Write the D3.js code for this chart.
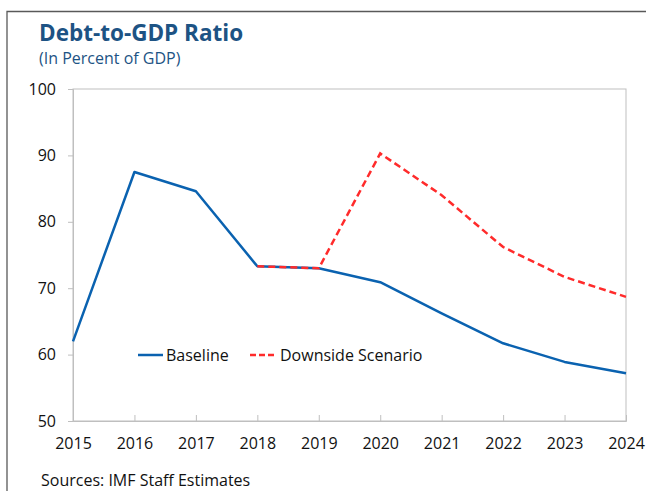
<!DOCTYPE html>
<html>
<head>
<meta charset="utf-8">
<script src="https://cdn.jsdelivr.net/npm/d3@7"></script>
<style>
  body { margin: 0; background: #fff; }
  text { font-family: "Open Sans", "Noto Sans", sans-serif; }
</style>
</head>
<body>
<div id="graph"></div>
<script>
var years = [2015, 2016, 2017, 2018, 2019, 2020, 2021, 2022, 2023, 2024];
var baseline = [62.0, 87.5, 84.6, 73.3, 73.0, 70.9, 66.2, 61.7, 58.9, 57.2];
var downsideYears = [2018, 2019, 2020, 2021, 2022, 2023, 2024];
var downside = [73.3, 73.0, 90.3, 84.0, 76.2, 71.7, 68.7];
var yTicks = [50, 60, 70, 80, 90, 100];

var width = 646, height = 491;
var plotLeft = 73, plotRight = 626, plotTop = 89, plotBottom = 421;

var blue = '#0a62b0', red = '#ff2b2b', grid = '#bfbfbf';

var svg = d3.select('#graph')
    .append('svg')
        .attr('width', width)
        .attr('height', height);

// outer frame
svg.append('path')
    .attr('d', 'M7,' + height + 'V11.5H' + width)
    .attr('fill', 'none')
    .attr('stroke', '#595959')
    .attr('stroke-width', 1.3);

svg.append('text')
    .attr('x', 39).attr('y', 41)
    .attr('font-size', 22.5)
    .attr('font-weight', 'bold')
    .attr('fill', '#1d5384')
    .text('Debt-to-GDP Ratio');

svg.append('text')
    .attr('x', 39).attr('y', 64)
    .attr('font-size', 16)
    .attr('fill', '#1d5384')
    .text('(In Percent of GDP)');

var x = d3.scaleLinear()
    .domain([2015, 2024])
    .range([plotLeft, plotRight]);

var y = d3.scaleLinear()
    .domain([50, 100])
    .range([plotBottom, plotTop]);

// plot box
svg.append('rect')
    .attr('x', plotLeft).attr('y', plotTop)
    .attr('width', plotRight - plotLeft).attr('height', plotBottom - plotTop)
    .attr('fill', 'none')
    .attr('stroke', grid);

var yAxis = svg.append('g')
    .attr('transform', 'translate(' + plotLeft + ',0)')
    .call(d3.axisLeft(y).tickValues(yTicks).tickSize(5).tickPadding(12));

var xAxis = svg.append('g')
    .attr('transform', 'translate(0,' + plotBottom + ')')
    .call(d3.axisBottom(x).tickValues(years).tickFormat(d3.format('d')).tickSize(-6).tickPadding(17));

[yAxis, xAxis].forEach(function(ax) {
    ax.select('.domain').attr('stroke', grid);
    ax.selectAll('.tick line').attr('stroke', grid);
    ax.selectAll('.tick text')
        .attr('font-size', 16)
        .attr('fill', '#111')
        .style('font-family', '"Open Sans", sans-serif');
});

var line = d3.line()
    .x(function(d) { return x(d[0]); })
    .y(function(d) { return y(d[1]); });

svg.append('path')
    .datum(years.map(function(d, i) { return [d, baseline[i]]; }))
    .attr('fill', 'none')
    .attr('stroke', blue)
    .attr('stroke-width', 2.5)
    .attr('stroke-linejoin', 'round')
    .attr('d', line);

svg.append('path')
    .datum(downsideYears.map(function(d, i) { return [d, downside[i]]; }))
    .attr('fill', 'none')
    .attr('stroke', red)
    .attr('stroke-width', 2.5)
    .attr('stroke-dasharray', '7,4')
    .attr('d', line);

// legend
var legend = svg.append('g').attr('transform', 'translate(138,355)');
legend.append('line')
    .attr('x1', 0).attr('x2', 25)
    .attr('stroke', blue).attr('stroke-width', 2.5);
legend.append('text')
    .attr('x', 28).attr('y', 6)
    .attr('font-size', 16).attr('fill', '#111')
    .text('Baseline');
legend.append('line')
    .attr('x1', 112).attr('x2', 137)
    .attr('stroke', red).attr('stroke-width', 2.5)
    .attr('stroke-dasharray', '6,3');
legend.append('text')
    .attr('x', 142).attr('y', 6)
    .attr('font-size', 16).attr('fill', '#111')
    .text('Downside Scenario');

svg.append('text')
    .attr('x', 41).attr('y', 486)
    .attr('font-size', 16).attr('fill', '#111')
    .text('Sources: IMF Staff Estimates');
</script>
</body>
</html>
